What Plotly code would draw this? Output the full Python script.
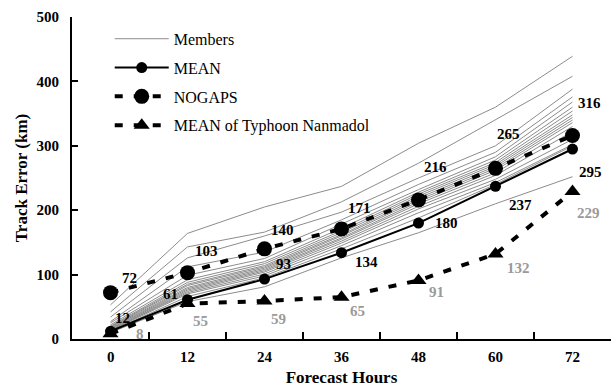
import plotly.graph_objects as go

hours = [0, 12, 24, 36, 48, 60, 72]

members = [
    [53, 164, 205, 237, 304, 360, 439],
    [42, 143, 166, 213, 273, 340, 408],
    [34, 126, 160, 197, 250, 300, 388],
    [27, 112, 135, 185, 240, 290, 376],
    [25, 99, 125, 178, 232, 283, 368],
    [22, 92, 120, 172, 228, 278, 360],
    [20, 88, 117, 168, 225, 274, 354],
    [19, 85, 114, 165, 222, 271, 348],
    [18, 83, 112, 162, 219, 268, 344],
    [17, 80, 110, 160, 216, 265, 340],
    [16, 78, 108, 157, 213, 262, 336],
    [15, 76, 106, 155, 210, 258, 330],
    [14, 74, 104, 152, 206, 254, 322],
    [14, 72, 101, 149, 202, 248, 310],
    [13, 70, 98, 145, 196, 243, 302],
    [12, 66, 95, 140, 188, 240, 300],
    [10, 58, 81, 126, 165, 210, 252],
]

mean = [12, 61, 93, 134, 180, 237, 295]
nogaps = [72, 103, 140, 171, 216, 265, 316]
nanmadol = [8, 55, 59, 65, 91, 132, 229]

x_labels = [0, 12, 24, 36, 48, 60, 72]
x_between = [6, 18, 30, 42, 54, 66]
y_ticks = [0, 100, 200, 300, 400, 500]

# label offsets (px) - style only
mean_off = [(12, -13), (-17, -6), (19, -15), (25, 9), (28, 0), (25, 19), (18, 23)]
nog_off = [(19, -15), (19, -22), (18, -19), (18, -21), (17, -33), (13, -34), (17, -33)]
nan_off = [(29, 0), (13, 17), (14, 18), (16, 14), (18, 12), (23, 14), (16, 21)]

SERIF = "Liberation Serif, Times New Roman, serif"

fig = go.Figure()

for i, m in enumerate(members):
    fig.add_trace(go.Scatter(
        x=hours, y=m, mode="lines",
        line=dict(color="#8c8c8c", width=1),
        name="Members", legendgroup="members",
        showlegend=(i == 0), legendrank=1,
    ))

fig.add_trace(go.Scatter(
    x=hours, y=nanmadol, mode="lines+markers",
    line=dict(color="black", width=4, dash="8px,11px"),
    marker=dict(symbol="triangle-up", size=14, color="black"),
    name="MEAN of Typhoon Nanmadol", legendrank=4, legendgroup="nan",
))
fig.add_trace(go.Scatter(
    x=hours, y=nogaps, mode="lines+markers",
    line=dict(color="black", width=4, dash="8px,11px"),
    marker=dict(symbol="circle", size=15, color="black"),
    name="NOGAPS", legendrank=3, legendgroup="nog",
))
fig.add_trace(go.Scatter(
    x=hours, y=mean, mode="lines+markers",
    line=dict(color="black", width=2),
    marker=dict(symbol="circle", size=11, color="black"),
    name="MEAN", legendrank=2, legendgroup="mean",
))

annotations = []
for vals, offs, col in ((mean, mean_off, "black"), (nogaps, nog_off, "black"), (nanmadol, nan_off, "#9a9a9a")):
    for h, v, (dx, dy) in zip(hours, vals, offs):
        annotations.append(dict(
            x=h, y=v, xref="x", yref="y", text=f"<b>{v}</b>", showarrow=False,
            xshift=dx, yshift=-dy,
            font=dict(family=SERIF, size=15, color=col),
        ))

# hour labels sit between the tick marks (ticks are placed at the midpoints)
for h in x_labels:
    annotations.append(dict(
        x=h, y=0, xref="x", yref="paper", text=f"<b>{h}</b>", showarrow=False,
        yanchor="top", yshift=-8,
        font=dict(family=SERIF, size=15, color="black"),
    ))

fig.update_layout(
    width=611, height=388,
    margin=dict(l=72, r=0, t=17, b=49),
    plot_bgcolor="white", paper_bgcolor="white",
    font=dict(family=SERIF, color="black"),
    showlegend=True,
    legend=dict(
        x=0.07, y=0.985, xanchor="left", yanchor="top",
        bgcolor="rgba(0,0,0,0)",
        font=dict(family=SERIF, size=16, color="black"),
        itemwidth=54,
        tracegroupgap=5,
        traceorder="grouped",
    ),
    annotations=annotations,
    xaxis=dict(
        range=[-6, 78], tickmode="array", tickvals=x_between, ticktext=[" "] * len(x_between),
        ticks="inside", ticklen=7, tickwidth=2, tickcolor="black",
        showgrid=False, zeroline=False,
        showline=True, linecolor="black", linewidth=2,
        tickfont=dict(family=SERIF, size=15, color="black", weight="bold"),
        ticklabelstandoff=4,
        title=dict(text="Forecast Hours", font=dict(family=SERIF, size=17, weight="bold"), standoff=6),
    ),
    yaxis=dict(
        range=[0, 500], tickvals=y_ticks,
        ticks="inside", ticklen=6, tickwidth=1.5, tickcolor="black",
        showgrid=False, zeroline=False,
        showline=True, linecolor="black", linewidth=2,
        tickfont=dict(family=SERIF, size=15, color="black", weight="bold"),
        ticklabelstandoff=8,
        title=dict(text="Track Error (km)", font=dict(family=SERIF, size=17, weight="bold"), standoff=5),
    ),
)

fig.write_html("out.html")
